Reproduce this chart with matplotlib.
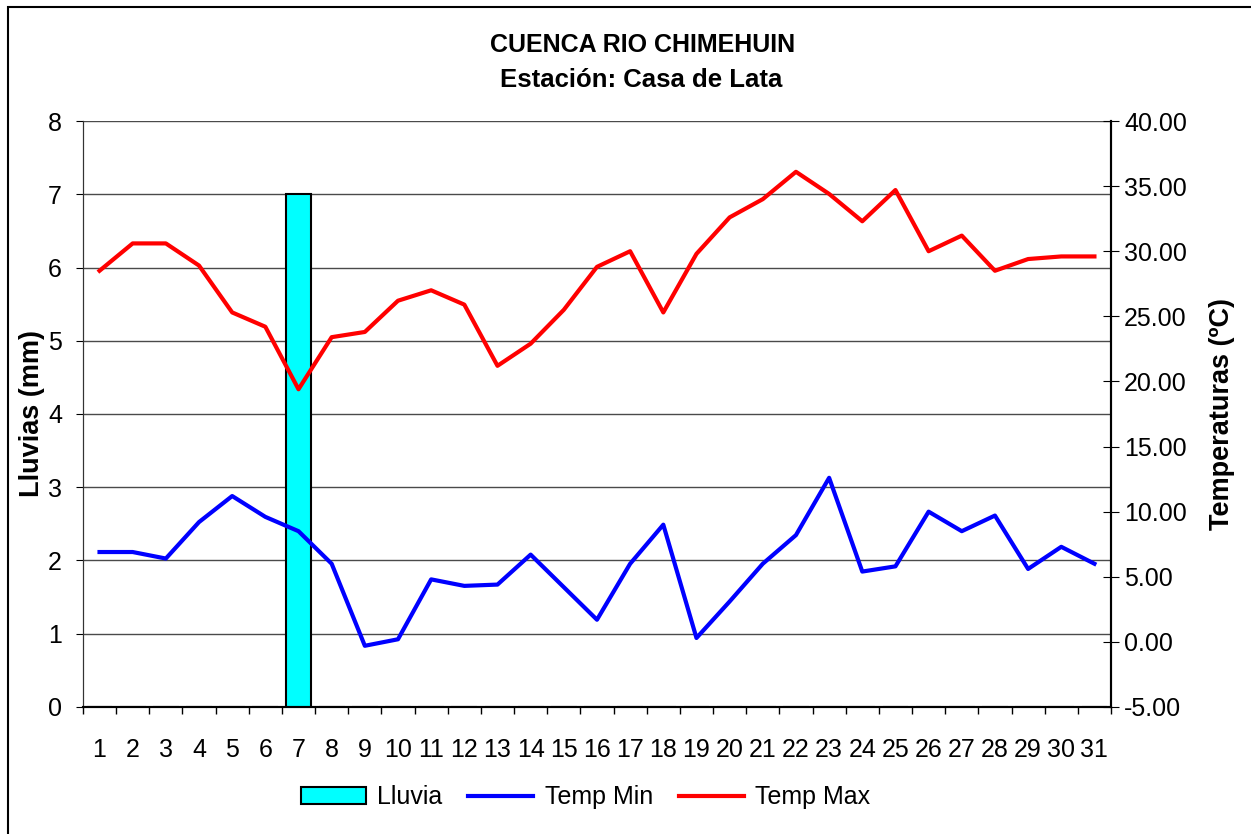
import numpy as np
import matplotlib
matplotlib.use("Agg")
import matplotlib.pyplot as plt
from matplotlib.patches import Rectangle

plt.rcParams['font.family'] = ['Liberation Sans', 'DejaVu Sans']

dias = list(range(1, 32))
lluvia = [0, 0, 0, 0, 0, 0, 7, 0, 0, 0, 0, 0, 0, 0, 0, 0,
          0, 0, 0, 0, 0, 0, 0, 0, 0, 0, 0, 0, 0, 0, 0]
temp_min = [6.9, 6.9, 6.4, 9.2, 11.2, 9.6, 8.5, 6.0, -0.3, 0.2, 4.8, 4.3, 4.4, 6.7, 4.2, 1.7,
            6.0, 9.0, 0.3, 3.1, 6.0, 8.2, 12.6, 5.4, 5.8, 10.0, 8.5, 9.7, 5.6, 7.3, 6.0]
temp_max = [28.5, 30.6, 30.6, 28.9, 25.3, 24.2, 19.4, 23.4, 23.8, 26.2, 27.0, 25.9, 21.2, 22.9, 25.5, 28.8,
            30.0, 25.3, 29.8, 32.6, 34.0, 36.1, 34.4, 32.3, 34.7, 30.0, 31.2, 28.5, 29.4, 29.6, 29.6]

fig = plt.figure(figsize=(12.51, 8.34), dpi=100)
ax = fig.add_axes([0.0663, 0.1523, 0.8218, 0.7026])
ax2 = ax.twinx()

x = np.arange(len(dias))
barras = ax.bar(x, lluvia, width=0.775, color='#00FFFF', edgecolor='black', linewidth=1.5,
                label='Lluvia', zorder=3)
ax.set_ylim(0, 8)
ax.set_xlim(-0.5, len(dias) - 0.5)
ax.set_yticks(range(0, 9))
for v in range(1, 9):
    ax.axhline(v, color='#4a4a4a', linewidth=1, zorder=1)
ax.set_xticks(x)
ax.set_xticklabels([str(d) for d in dias])
ax.set_xticks(np.arange(-0.5, len(dias), 1), minor=True)
ax.tick_params(axis='x', which='major', length=0, pad=22, labelsize=18)
ax.tick_params(axis='x', which='minor', length=5, direction='out', width=1)
ax.tick_params(axis='y', length=5, direction='out', labelsize=18, pad=10)
ax.set_ylabel('Lluvias (mm)', fontsize=19.5, fontweight='bold')
ax.yaxis.set_label_coords(-0.037, 0.5)

lmin, = ax2.plot(x, temp_min, color='#0000FF', linewidth=3, label='Temp Min', zorder=4)
lmax, = ax2.plot(x, temp_max, color='#FF0000', linewidth=3, label='Temp Max', zorder=4)
ax2.set_ylim(-5, 40)
ax2.set_yticks(np.arange(-5, 41, 5))
ax2.set_yticklabels([f'{v:.2f}' for v in np.arange(-5, 41, 5)])
ax2.tick_params(axis='y', length=11, direction='inout', labelsize=18, pad=4)
ax2.set_ylabel('Temperaturas (ºC)', fontsize=19.5, fontweight='bold', rotation=90)
ax2.yaxis.set_label_coords(1.095, 0.5)

for a in (ax, ax2):
    a.spines['top'].set_visible(False)
    a.spines['left'].set_color('#333333')
    a.spines['right'].set_color('black')
    a.spines['bottom'].set_color('black')
    a.spines['right'].set_linewidth(1.5)
    a.spines['bottom'].set_linewidth(1.5)

fig.text(0.5136, 0.946, 'CUENCA RIO CHIMEHUIN', ha='center', va='center',
         fontsize=18, fontweight='bold')
fig.text(0.5125, 0.904, 'Estación: Casa de Lata', ha='center', va='center',
         fontsize=18.5, fontweight='bold')

fig.legend([barras, lmin, lmax], ['Lluvia', 'Temp Min', 'Temp Max'], loc='center',
           bbox_to_anchor=(0.468, 0.044), ncol=3, frameon=False, fontsize=18,
           handlelength=2.6, columnspacing=1.05, handletextpad=0.45)

fig.patches.append(Rectangle((0.0065, -0.01), 1.0, 1.0015, transform=fig.transFigure,
                             fill=False, edgecolor='black', linewidth=1.5))

plt.savefig('out.png', dpi=100)
